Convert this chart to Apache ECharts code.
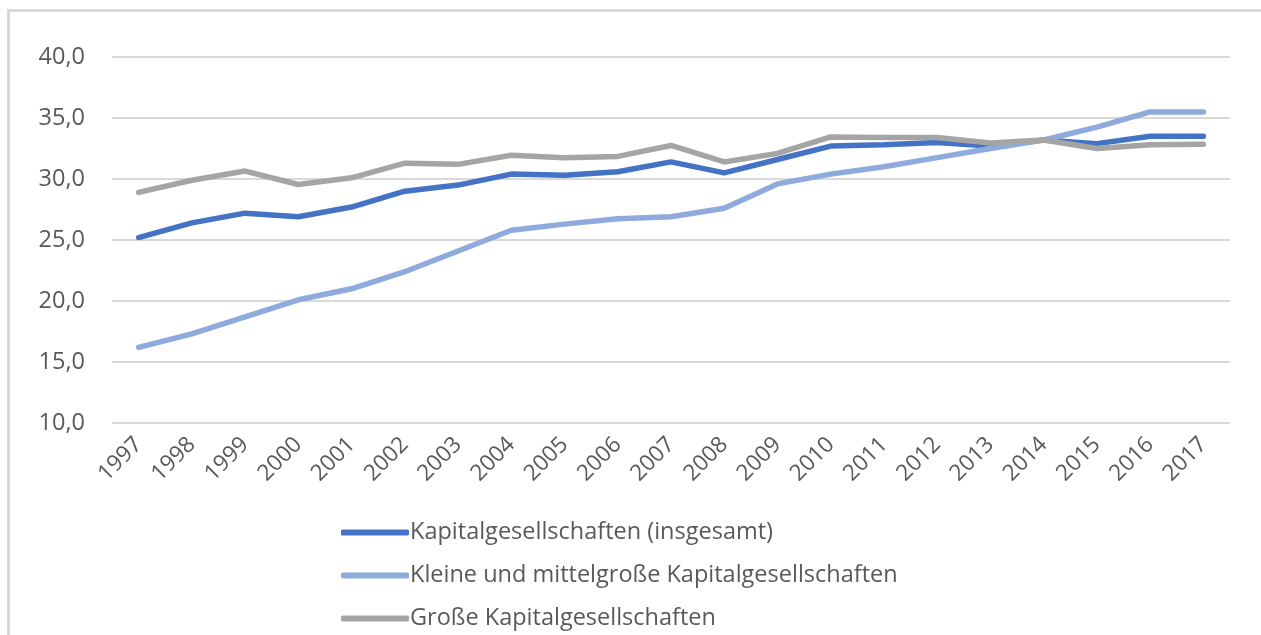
<!DOCTYPE html>
<html>
<head>
    <meta charset="utf-8">
    <title></title>
    <script src="https://cdn.jsdelivr.net/npm/echarts@6/dist/echarts.min.js"></script>
    <style>
        html, body { margin: 0; padding: 0; background: #fff; }
        #frame { position: absolute; left: 7px; top: 9px; width: 1300px; height: 700px;
                 border-top: 3px solid #d9d9d9; border-left: 3px solid #d9d9d9; }
        #main { position: absolute; left: 0; top: 0; width: 1261px; height: 635px; }
    </style>
</head>
<body>
<div id="frame"></div>
<div id="main"></div>
<script type="text/javascript">
var years = ['1997','1998','1999','2000','2001','2002','2003','2004','2005','2006','2007',
             '2008','2009','2010','2011','2012','2013','2014','2015','2016','2017'];
// Kapitalgesellschaften (insgesamt)
var insgesamt = [25.2, 26.4, 27.2, 26.9, 27.7, 29.0, 29.5, 30.4, 30.3, 30.6, 31.4,
                 30.5, 31.6, 32.7, 32.8, 33.0, 32.7, 33.2, 32.9, 33.5, 33.5];
// Kleine und mittelgroße Kapitalgesellschaften
var kmu = [16.2, 17.3, 18.7, 20.1, 21.0, 22.4, 24.1, 25.8, 26.3, 26.75, 26.9,
           27.6, 29.6, 30.4, 31.0, 31.75, 32.5, 33.2, 34.25, 35.5, 35.5];
// Große Kapitalgesellschaften
var gross = [28.9, 29.9, 30.65, 29.55, 30.1, 31.3, 31.2, 31.95, 31.75, 31.85, 32.75,
             31.4, 32.1, 33.45, 33.4, 33.4, 32.95, 33.2, 32.5, 32.8, 32.85];
var names = ['Kapitalgesellschaften (insgesamt)', 'Kleine und mittelgroße Kapitalgesellschaften', 'Große Kapitalgesellschaften'];
var colors = ['#4472C4', '#8FAADC', '#A5A5A5'];

var font = '"Open Sans", "Noto Sans", sans-serif';
var myChart = echarts.init(document.getElementById('main'));

function line(name, data, color) {
    return {
        name: name,
        type: 'line',
        data: data,
        symbol: 'none',
        smooth: false,
        lineStyle: {width: 5.5, color: color, cap: 'round', join: 'round'},
        itemStyle: {color: color}
    };
}

myChart.setOption({
    animation: false,
    color: colors,
    grid: {left: 112, right: 31, top: 57, bottom: 212},
    legend: {
        orient: 'vertical',
        left: 341,
        top: 518,
        padding: 0,
        itemWidth: 68,
        itemHeight: 6,
        itemGap: 14,
        icon: 'roundRect',
        textStyle: {fontFamily: font, fontSize: 23.5, color: '#595959', lineHeight: 29, padding: [0, 0, 0, -4]},
        data: names
    },
    xAxis: {
        type: 'category',
        data: years,
        boundaryGap: true,
        axisLine: {show: false},
        axisTick: {show: false},
        axisLabel: {rotate: 45, margin: 18, fontFamily: font, fontSize: 22.5, color: '#595959'}
    },
    yAxis: {
        type: 'value',
        min: 10,
        max: 40,
        interval: 5,
        axisLabel: {
            margin: 27, fontFamily: font, fontSize: 23.5, color: '#595959',
            formatter: function (v) { return v.toFixed(1).replace('.', ','); }
        },
        splitLine: {lineStyle: {color: '#d9d9d9', width: 2}}
    },
    series: [
        line(names[0], insgesamt, colors[0]),
        line(names[1], kmu, colors[1]),
        line(names[2], gross, colors[2])
    ]
});
</script>
</body>
</html>
